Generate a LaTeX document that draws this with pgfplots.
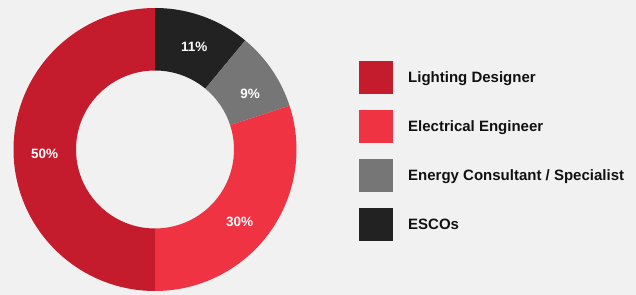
\documentclass[border=0pt]{standalone}
\usepackage{fontspec}
\setmainfont{Liberation Sans}
\usepackage{pgfplots}
\usepackage{pgfplotstable}
\pgfplotsset{compat=1.18}
\definecolor{cLD}{HTML}{C51C2D}
\definecolor{cEE}{HTML}{EF3342}
\definecolor{cEC}{HTML}{767676}
\definecolor{cES}{HTML}{222222}
\definecolor{bg}{HTML}{F1F1F1}
\definecolor{txt}{HTML}{111111}

% clockwise from 12 o'clock; loff = small angular offset of the value label
\pgfplotstableread[col sep=comma]{
name,value,col,loff
ESCOs,11,cES,-1
Energy Consultant,9,cEC,-3.5
Electrical Engineer,30,cEE,-4
Lighting Designer,50,cLD,2
}\piedata

\begin{document}
\begin{tikzpicture}
\begin{axis}[
  scale only axis, width=636bp, height=295bp,
  xmin=0, xmax=636, ymin=0, ymax=295,
  hide axis, clip=false,
  legend style={at={(axis cs:359,234)}, anchor=north west, draw=none, fill=none,
    inner sep=0pt, row sep=16bp, column sep=15bp,
    font=\fontsize{15bp}{18bp}\selectfont\bfseries, text=txt,
    nodes={inner sep=0pt}},
  legend cell align=left,
  legend image code/.code={\path[#1, draw=none] (0bp,-16.5bp) rectangle (34bp,16.5bp);},
]
\fill[bg] (axis cs:0,0) rectangle (axis cs:636,295);
\pgfplotsextra{%
  \pgfplotstablegetrowsof{\piedata}%
  \pgfmathtruncatemacro\lastrow{\pgfplotsretval-1}%
  \gdef\angA{90}%
  \foreach \i in {0,...,\lastrow}{%
    \pgfplotstablegetelem{\i}{value}\of{\piedata}\let\sliceval\pgfplotsretval
    \pgfplotstablegetelem{\i}{col}\of{\piedata}\let\slicecol\pgfplotsretval
    \pgfplotstablegetelem{\i}{loff}\of{\piedata}\let\sliceoff\pgfplotsretval
    \pgfmathsetmacro\angB{\angA-3.6*\sliceval}%
    \pgfmathsetmacro\angM{(\angA+\angB)/2+\sliceoff}%
    \fill[fill=\slicecol] (axis cs:155,145.5) ++(\angA:141.5bp)
      arc[start angle=\angA, end angle=\angB, radius=141.5bp]
      -- ++(\angB:-62.5bp)
      arc[start angle=\angB, end angle=\angA, radius=79bp] -- cycle;
    \path (axis cs:155,144.5) ++(\angM:110.5bp) node[text=white,
      font=\fontsize{13.5bp}{15bp}\selectfont\bfseries] {\sliceval\%};
    \global\let\angA\angB
  }%
}
\addlegendimage{fill=cLD}\addlegendentry{Lighting Designer}
\addlegendimage{fill=cEE}\addlegendentry{Electrical Engineer}
\addlegendimage{fill=cEC}\addlegendentry{Energy Consultant / Specialist}
\addlegendimage{fill=cES}\addlegendentry{ESCOs}
\end{axis}
\end{tikzpicture}
\end{document}
